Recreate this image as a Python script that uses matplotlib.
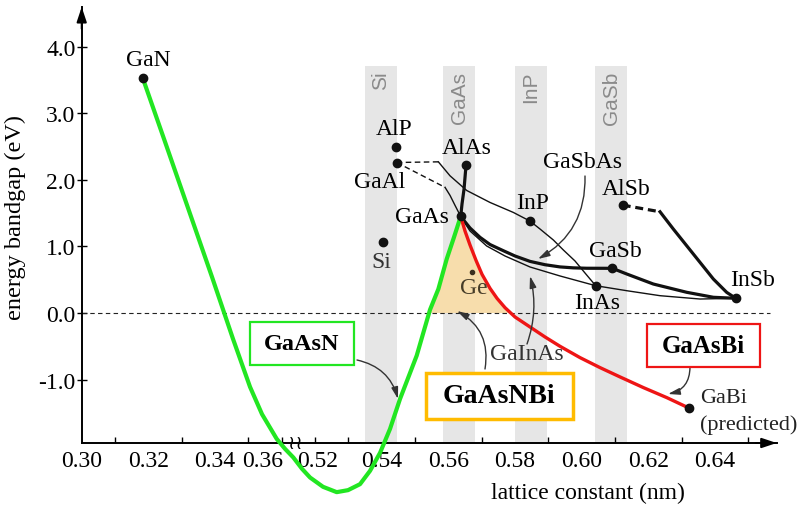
import numpy as np
import matplotlib
matplotlib.use("Agg")
import matplotlib.pyplot as plt
import matplotlib.transforms as mtransforms
from matplotlib.patches import Rectangle

plt.rcParams["font.family"] = ["Liberation Serif", "DejaVu Serif"]

# binary compounds: lattice constant (nm) and bandgap (eV)
compounds = ["GaN", "AlP", "GaAl", "AlAs", "GaAs", "Si", "InP", "AlSb", "GaSb", "InAs", "InSb", "GaBi"]
lattice = [0.3183, 0.5443, 0.5445, 0.5653, 0.5637, 0.5405, 0.5845, 0.6123, 0.6092, 0.6042, 0.6462, 0.6323]
bandgap = [3.53, 2.50, 2.26, 2.22, 1.45, 1.07, 1.38, 1.62, 0.67, 0.41, 0.22, -1.43]
ge_lattice, ge_gap = 0.5670, 0.61

# substrate bands
bands = ["Si", "GaAs", "InP", "GaSb"]
band_centres = [0.5397, 0.5632, 0.5848, 0.6088]

# GaAsN (GaN -> GaAs), passes through the axis break
gaasn_x = [0.3183, 0.3250, 0.3325, 0.3391, 0.3454, 0.3505, 0.3541, 0.3585, 0.376, 0.416,
           0.4576, 0.496, 0.5224, 0.5265, 0.5299, 0.5335, 0.5365, 0.5395, 0.5425, 0.5455,
           0.5505, 0.5545, 0.5570, 0.5595, 0.5617, 0.5637]
gaasn_y = [3.53, 2.57, 1.49, 0.54, -0.39, -1.11, -1.52, -1.89, -2.04, -2.17,
           -2.34, -2.47, -2.61, -2.69, -2.66, -2.57, -2.37, -2.10, -1.74, -1.29,
           -0.64, 0.05, 0.36, 0.81, 1.14, 1.45]

# GaAsBi (GaAs -> GaBi)
gaasbi_x = [0.5637, 0.5650, 0.5665, 0.5683, 0.5701, 0.5725, 0.5746, 0.5770, 0.5800, 0.5845,
            0.5890, 0.5935, 0.5995, 0.6055, 0.6115, 0.6185, 0.6255, 0.6323]
gaasbi_y = [1.45, 1.23, 1.02, 0.79, 0.58, 0.37, 0.22, 0.08, -0.06, -0.21,
            -0.36, -0.50, -0.67, -0.82, -0.96, -1.12, -1.27, -1.43]

# ternary lines (black)
alas_gaas_x = [0.5653, 0.5647, 0.5641, 0.5637]
alas_gaas_y = [2.22, 1.86, 1.64, 1.45]
gaas_gasb_x = [0.5637, 0.5665, 0.5695, 0.5725, 0.5765, 0.5800, 0.5845, 0.5890, 0.5935, 0.5975, 0.6015, 0.6092]
gaas_gasb_y = [1.45, 1.276, 1.136, 1.028, 0.935, 0.856, 0.775, 0.725, 0.692, 0.678, 0.672, 0.671]
gasb_insb_x = [0.6092, 0.6135, 0.6215, 0.6315, 0.6395, 0.6462]
gasb_insb_y = [0.671, 0.586, 0.435, 0.311, 0.236, 0.221]
alsb_insb_dash_x = [0.6123, 0.6235]
alsb_insb_dash_y = [1.62, 1.52]
alsb_insb_x = [0.6235, 0.6275, 0.6315, 0.6355, 0.6395, 0.6435, 0.6462]
alsb_insb_y = [1.52, 1.26, 1.01, 0.76, 0.51, 0.31, 0.221]
gaas_inas_x = [0.5637, 0.5665, 0.5715, 0.5770, 0.5845, 0.5935, 0.6042]
gaas_inas_y = [1.45, 1.231, 1.006, 0.856, 0.691, 0.556, 0.41]
inas_insb_x = [0.6042, 0.6135, 0.6235, 0.6355, 0.6462]
inas_insb_y = [0.41, 0.335, 0.26, 0.21, 0.221]
gaal_inp_dash_x = [0.5445, 0.5570]
gaal_inp_dash_y = [2.26, 2.27]
gaal_inp_x = [0.5570, 0.5605, 0.5655, 0.5725, 0.5795, 0.5845]
gaal_inp_y = [2.27, 2.06, 1.84, 1.66, 1.51, 1.38]
inp_inas_x = [0.5845, 0.5875, 0.5915, 0.5945, 0.5980, 0.6010, 0.6042]
inp_inas_y = [1.38, 1.261, 1.096, 0.946, 0.781, 0.60, 0.41]
gaal_gaas_dash_x = [0.5445, 0.5590]
gaal_gaas_dash_y = [2.26, 1.887]
gaal_gaas_x = [0.5590, 0.5605, 0.5620, 0.5637]
gaal_gaas_y = [1.887, 1.766, 1.616, 1.45]

xtick_labels = ["0.30", "0.32", "0.34", "0.36", "0.52", "0.54", "0.56", "0.58", "0.60", "0.62", "0.64"]
xtick_pos = [0.30, 0.32, 0.34, 0.3544, 0.5209, 0.54, 0.56, 0.58, 0.60, 0.62, 0.64]
xminor = [0.31, 0.32, 0.33, 0.34, 0.35, 0.36, 0.52, 0.53, 0.54, 0.55, 0.56, 0.57,
          0.58, 0.59, 0.60, 0.61, 0.62, 0.63, 0.64, 0.65]
yticks = [-1, 0, 1, 2, 3, 4]
ytick_labels = ["-1.0", "0.0", "1.0", "2.0", "3.0", "4.0"]

GREEN = "#22e622"
RED = "#ee1515"
ORANGE = "#ffbb00"


# broken x axis: 0.30-0.36 then 0.52-0.66
def fwd(x):
    x = np.asarray(x, dtype=float)
    return np.where(x <= 0.36, x - 0.30,
                    np.where(x >= 0.52, x - 0.45, 0.06 + (x - 0.36) / 16))


def inv(u):
    u = np.asarray(u, dtype=float)
    return np.where(u <= 0.06, u + 0.30,
                    np.where(u >= 0.07, u + 0.45, 0.36 + (u - 0.06) * 16))


fig = plt.figure(figsize=(8.02, 5.10), dpi=100)
ax = fig.add_axes([81.7 / 802, 66 / 510, 695 / 802, 436 / 510])
ax.set_xscale("function", functions=(fwd, inv))
ax.set_xlim(0.30, 0.6585)
ybot, ytop = -1.952, 4.595
ax.set_ylim(ybot, ytop)

# pixel coordinates (top-left origin) for free annotations
PX = mtransforms.Affine2D().scale(1 / 802, -1 / 510).translate(0, 1) + fig.transFigure

# grey substrate bands
bw = 0.0096
for name, c in zip(bands, band_centres):
    ax.fill_between([c - bw / 2, c + bw / 2], ybot, 3.71, color="#e6e6e6", lw=0, zorder=0)
    ax.text(c, 3.64, name, rotation=90, ha="center", va="top", color="#8a8a8a",
            fontsize=15, family="Liberation Sans", zorder=1)

# shaded GaInAs region between GaAsN and GaAsBi above 0 eV
fx = gaasn_x[20:] + gaasbi_x[1:10]
fy = gaasn_y[20:] + gaasbi_y[1:10]
shade = ax.fill(fx, fy, color="#f7ddac", lw=0, zorder=1)[0]
clip = Rectangle((0.54, 0), 0.06, 2, transform=ax.transData)
shade.set_clip_path(clip)

# zero line
ax.plot([0.30, 0.6565], [0, 0], color="#222222", lw=0.8, ls=(0, (4, 3)), zorder=1.6)

# black alloy lines
thin = dict(color="#111111", lw=1.0, zorder=2, solid_joinstyle="round")
thick = dict(color="#111111", lw=2.3, zorder=2.2, solid_joinstyle="round")
ax.plot(gaal_inp_dash_x, gaal_inp_dash_y, ls=(0, (4, 2.5)), **thin)
ax.plot(gaal_inp_x, gaal_inp_y, **thin)
ax.plot(inp_inas_x, inp_inas_y, **thin)
ax.plot(gaal_gaas_dash_x, gaal_gaas_dash_y, ls=(0, (4, 2.5)), **thin)
ax.plot(gaal_gaas_x, gaal_gaas_y, **thin)
ax.plot(gaas_inas_x, gaas_inas_y, **thin)
ax.plot(inas_insb_x, inas_insb_y, **thin)
ax.plot(alas_gaas_x, alas_gaas_y, **thick)
ax.plot(gaas_gasb_x, gaas_gasb_y, **thick)
ax.plot(gasb_insb_x, gasb_insb_y, **thick)
ax.plot(alsb_insb_dash_x, alsb_insb_dash_y, ls=(0, (2.5, 1.5)), **thick)
ax.plot(alsb_insb_x, alsb_insb_y, **thick)

# GaAsN and GaAsBi curves
ax.plot(gaasn_x, gaasn_y, color=GREEN, lw=3.0, zorder=3, clip_on=False,
        solid_capstyle="round", solid_joinstyle="round")
ax.plot(gaasbi_x, gaasbi_y, color=RED, lw=2.4, zorder=3,
        solid_capstyle="round", solid_joinstyle="round")

# compound dots and labels
ax.plot(lattice, bandgap, "o", color="#111111", ms=6, zorder=5, clip_on=False)
ax.plot([ge_lattice], [ge_gap], "o", color="#3a3020", ms=3, zorder=5)

label_offsets = {"GaN": (6, 18), "AlP": (-2, 18), "GaAl": (-17, -19), "AlAs": (1, 18),
                 "GaAs": (-39, 0), "Si": (-2, -20), "InP": (3, 19), "AlSb": (3, 17),
                 "GaSb": (3, 18), "InAs": (1, -17), "InSb": (17, 19)}
for name, x, y in zip(compounds, lattice, bandgap):
    if name not in label_offsets:
        continue
    ax.annotate(name, (x, y), xytext=label_offsets[name], textcoords="offset pixels",
                ha="center", va="center", fontsize=17,
                color="#333333" if name == "Si" else "black", zorder=6)
ax.annotate("Ge", (ge_lattice, ge_gap), xytext=(2, -15), textcoords="offset pixels",
            ha="center", va="center", fontsize=17, color="#463c28", zorder=6)
ax.annotate("GaBi", (lattice[-1], bandgap[-1]), xytext=(11, 11), textcoords="offset pixels",
            ha="left", va="center", fontsize=16, color="#222222", annotation_clip=False)
ax.annotate("(predicted)", (lattice[-1], bandgap[-1]), xytext=(11, -16), textcoords="offset pixels",
            ha="left", va="center", fontsize=16, color="#222222", annotation_clip=False)

# free labels
fig.text(583, 163, "GaSbAs", transform=PX, ha="center", va="center", fontsize=17)
fig.text(527, 355, "GaInAs", transform=PX, ha="center", va="center", fontsize=17, color="#333333")

# framed labels
boxes = [("GaAsN", 250, 323, 104, 43, GREEN, 1.6, 17.5, 302, 345),
         ("GaAsNBi", 426, 374, 147, 46, ORANGE, 2.5, 20, 499, 397),
         ("GaAsBi", 647, 325, 113, 43, RED, 1.6, 18, 703, 347)]
for text, x0, y0, w, h, col, lw, fs, tx, ty in boxes:
    fig.add_artist(Rectangle((x0, y0), w, h, transform=PX, fill=True, fc="white",
                             ec=col, lw=lw, zorder=4))
    fig.text(tx, ty, text, transform=PX, ha="center", va="center", fontsize=fs,
             fontweight="bold", zorder=5)


def arrow(start, tip, rad):
    ax.annotate("", xy=tip, xycoords=PX, xytext=start, textcoords=PX,
                arrowprops=dict(arrowstyle="-|>,head_length=0.7,head_width=0.2",
                                color="#333333", lw=1.0, shrinkA=0, shrinkB=0,
                                connectionstyle=f"arc3,rad={rad}"),
                annotation_clip=False)


arrow((357, 361), (398, 400), -0.3)
arrow((485, 370), (457, 312), 0.35)
arrow((527, 345), (530, 277), 0.15)
arrow((585, 177), (538, 260), -0.3)
arrow((690, 368), (668, 395), -0.4)

# axes styling
for side in ["top", "right"]:
    ax.spines[side].set_visible(False)
for side in ["left", "bottom"]:
    ax.spines[side].set_linewidth(1.4)
ax.set_yticks(yticks, labels=ytick_labels)
ax.tick_params(axis="y", direction="inout", length=7, width=1, pad=1, labelsize=17)
ax.set_xticks(xtick_pos, labels=xtick_labels)
ax.set_xticks(xminor, minor=True)
ax.tick_params(axis="x", which="major", length=0, pad=5, labelsize=17)
ax.tick_params(axis="x", which="minor", direction="in", length=4.5, width=1)

ax.annotate("", xy=(1, 0), xycoords="axes fraction", xytext=(0.97, 0),
            arrowprops=dict(arrowstyle="-|>,head_length=0.9,head_width=0.3", color="k",
                            lw=1.4, shrinkA=0, shrinkB=0), annotation_clip=False)
ax.annotate("", xy=(0, 1), xycoords="axes fraction", xytext=(0, 0.95),
            arrowprops=dict(arrowstyle="-|>,head_length=0.9,head_width=0.3", color="k",
                            lw=1.4, shrinkA=0, shrinkB=0), annotation_clip=False)

# axis break mark
fig.text(295, 444, "\u2240\u2240", transform=PX, ha="center", va="center",
         fontsize=14, family="DejaVu Sans")

fig.text(15, 218, "energy bandgap (eV)", transform=PX, rotation=90,
         ha="center", va="center", fontsize=17.5)
fig.text(588, 493, "lattice constant (nm)", transform=PX, ha="center", va="center",
         fontsize=17)

fig.savefig("out.png", dpi=100)
